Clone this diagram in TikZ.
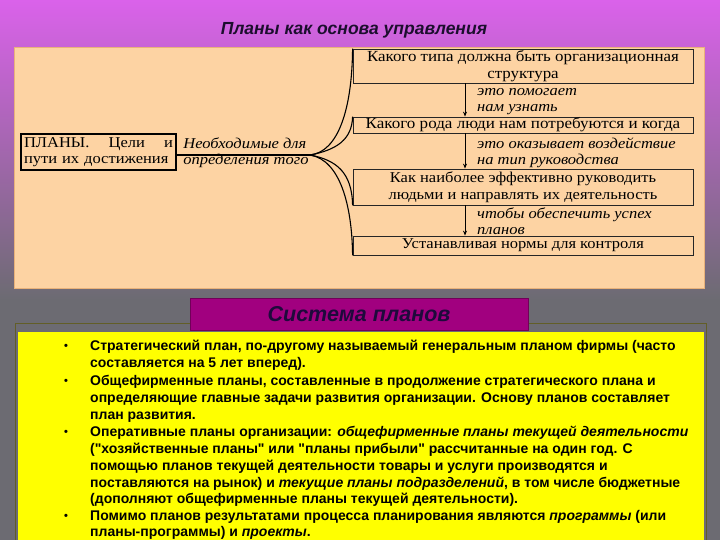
\documentclass[tikz,border=0pt]{standalone}
\usepackage{fontspec}
\setmainfont[FakeStretch=1.1]{Liberation Serif}
\newfontfamily\sansf{Liberation Sans}
\usetikzlibrary{arrows.meta}
\definecolor{bgtop}{HTML}{DA62EA}
\definecolor{bggray}{HTML}{6C6B72}
\definecolor{peach}{HTML}{FDD3A3}
\definecolor{peachedge}{HTML}{E9B27A}
\definecolor{hdr}{HTML}{A1007F}
\definecolor{hdrtext}{HTML}{1E0A3C}
\definecolor{ttl}{HTML}{1C0E2E}
\definecolor{ylw}{HTML}{FFFF00}
\tikzset{
  rbox/.style={draw=black!85, line width=0.8pt, minimum width=340pt, inner sep=0pt, align=center, font=\fontsize{15}{17}\selectfont},
  note/.style={anchor=west, align=left, inner sep=0pt, font=\itshape\fontsize{15}{16}\selectfont},
  arr/.style={line width=0.9pt, -{Stealth[length=5pt,width=4pt]}},
  fanline/.style={line width=1.1pt},
  bline/.style={anchor=base west, inner sep=0pt, font=\sansf\bfseries\fontsize{14}{16}\selectfont},
  bul/.style={anchor=base, inner sep=0pt, font=\sansf\bfseries\fontsize{11}{14}\selectfont}
}
\begin{document}
\begin{tikzpicture}[x=1pt,y=-1pt]
\useasboundingbox (0,0) rectangle (720,540);
% background
\shade[top color=bgtop, bottom color=bggray] (0,0) rectangle (720,300);
\fill[bggray] (0,300) rectangle (720,540);
% title
\node[font=\sansf\bfseries\itshape\fontsize{17.5}{20}\selectfont, text=ttl] (title) at (354,30) {Планы как основа управления};
% peach panel
\fill[peach, draw=peachedge, line width=0.6pt] (14,47) rectangle (704,288);
% left box
\node[draw=black, line width=2pt, text width=149pt, align=left, inner sep=3pt,
      font=\fontsize{15}{16}\selectfont] (plany) at (98.5,152)
      {ПЛАНЫ.\hfill Цели\hfill и\\пути их достижения};
\node[note, anchor=center, align=left] (need) at (246,153) {Необходимые для\\определения того};
\coordinate (fan) at (310,155);
\draw[line width=2pt] (plany.east |- fan) -- (fan);
% right boxes
\node[rbox, minimum height=34pt, font=\fontsize{15.4}{17}\selectfont] (b1) at (523,66) {Какого типа должна быть организационная\\структура};
\node[rbox, minimum height=16pt, font=\fontsize{15.5}{17}\selectfont] (b2) at (523,125) {Какого рода люди нам потребуются и когда};
\node[rbox, minimum height=36pt] (b3) at (523,187) {Как наиболее эффективно руководить\\людьми и направлять их деятельность};
\node[rbox, minimum height=19pt] (b4) at (523,245.5) {Устанавливая нормы для контроля};
% fan curves
\draw[fanline] (fan) .. controls (338,152) and (352,110) .. (b1.north west);
\draw[fanline] (fan) .. controls (336,150) and (352,140) .. (b2.north west);
\draw[fanline] (fan) .. controls (336,160) and (352,172) .. (b3.south west);
\draw[fanline] (fan) .. controls (340,160) and (352,205) .. (b4.south west);
% vertical arrows
\coordinate (ax) at (465,0);
\draw[arr] (b1.south -| ax) -- (b2.north -| ax);
\draw[arr] (b2.south -| ax) -- (b3.north -| ax);
\draw[arr] (b3.south -| ax) -- (b4.north -| ax);
\node[note] (n1) at (477,101.5) {это помогает\\нам узнать};
\node[note] (n2) at (477,153) {это оказывает воздействие\\на тип руководства};
\node[note] (n3) at (477,221.5) {чтобы обеспечить успех\\планов};
% yellow panel and header
\draw[draw=black!40!olive, line width=0.6pt] (15,545) -- (15,323) -- (706,323) -- (706,545);
\fill[ylw] (18,332) rectangle (704,540);
\node[fill=hdr, draw=hdr!70!black, line width=0.6pt, minimum width=338pt, minimum height=32pt, inner sep=0pt,
      font=\sansf\bfseries\itshape\fontsize{21.5}{23}\selectfont, text=hdrtext] (sys) at (359,314) {Система планов};
% bullet text
\node[bul] (d1) at (66,349) {•};
\node[bline] (l1) at (90,350) {Стратегический план, по-другому называемый генеральным планом фирмы (часто};
\node[bline] (l2) at (90,367) {составляется на 5 лет вперед).};
\node[bul] (d2) at (66,384) {•};
\node[bline] (l3) at (90,385) {Общефирменные планы, составленные в продолжение стратегического плана и};
\node[bline] (l4) at (90,402) {определяющие главные задачи развития организации. Основу планов составляет};
\node[bline] (l5) at (90,419) {план развития.};
\node[bul] (d3) at (66,435) {•};
\node[bline] (l6) at (90,436) {Оперативные планы организации: \textit{общефирменные планы текущей деятельности}};
\node[bline] (l7) at (90,453) {("хозяйственные планы" или "планы прибыли" рассчитанные на один год. С};
\node[bline] (l8) at (90,470) {помощью планов текущей деятельности товары и услуги производятся и};
\node[bline] (l9) at (90,487) {поставляются на рынок) и \textit{текущие планы подразделений}, в том числе бюджетные};
\node[bline] (l10) at (90,503) {(дополняют общефирменные планы текущей деятельности).};
\node[bul] (d4) at (66,519) {•};
\node[bline] (l11) at (90,520) {Помимо планов результатами процесса планирования являются \textit{программы} (или};
\node[bline] (l12) at (90,536) {планы-программы) и \textit{проекты}.};
\end{tikzpicture}
\end{document}
